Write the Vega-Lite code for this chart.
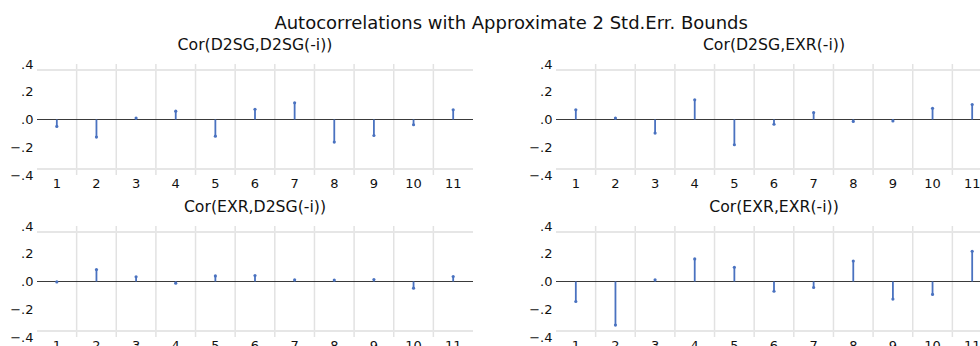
{
  "$schema": "https://vega.github.io/schema/vega-lite/v6.json",
  "background": "white",
  "padding": {"top": 15, "left": 9, "right": 0, "bottom": 0},
  "title": {"text": "Autocorrelations with Approximate 2 Std.Err. Bounds", "font": "DejaVu Sans", "fontSize": 18, "fontWeight": "normal", "color": "#111111", "anchor": "middle", "offset": 4, "dx": 10},
  "data": {"values": [
    {"panel": "Cor(D2SG,D2SG(-i))", "lag": 1, "r": -0.050},
    {"panel": "Cor(D2SG,D2SG(-i))", "lag": 2, "r": -0.127},
    {"panel": "Cor(D2SG,D2SG(-i))", "lag": 3, "r": 0.010},
    {"panel": "Cor(D2SG,D2SG(-i))", "lag": 4, "r": 0.060},
    {"panel": "Cor(D2SG,D2SG(-i))", "lag": 5, "r": -0.120},
    {"panel": "Cor(D2SG,D2SG(-i))", "lag": 6, "r": 0.074},
    {"panel": "Cor(D2SG,D2SG(-i))", "lag": 7, "r": 0.120},
    {"panel": "Cor(D2SG,D2SG(-i))", "lag": 8, "r": -0.163},
    {"panel": "Cor(D2SG,D2SG(-i))", "lag": 9, "r": -0.115},
    {"panel": "Cor(D2SG,D2SG(-i))", "lag": 10, "r": -0.038},
    {"panel": "Cor(D2SG,D2SG(-i))", "lag": 11, "r": 0.070},
    {"panel": "Cor(D2SG,EXR(-i))", "lag": 1, "r": 0.070},
    {"panel": "Cor(D2SG,EXR(-i))", "lag": 2, "r": 0.010},
    {"panel": "Cor(D2SG,EXR(-i))", "lag": 3, "r": -0.098},
    {"panel": "Cor(D2SG,EXR(-i))", "lag": 4, "r": 0.142},
    {"panel": "Cor(D2SG,EXR(-i))", "lag": 5, "r": -0.182},
    {"panel": "Cor(D2SG,EXR(-i))", "lag": 6, "r": -0.034},
    {"panel": "Cor(D2SG,EXR(-i))", "lag": 7, "r": 0.050},
    {"panel": "Cor(D2SG,EXR(-i))", "lag": 8, "r": -0.014},
    {"panel": "Cor(D2SG,EXR(-i))", "lag": 9, "r": -0.010},
    {"panel": "Cor(D2SG,EXR(-i))", "lag": 10, "r": 0.081},
    {"panel": "Cor(D2SG,EXR(-i))", "lag": 11, "r": 0.108},
    {"panel": "Cor(EXR,D2SG(-i))", "lag": 1, "r": -0.003},
    {"panel": "Cor(EXR,D2SG(-i))", "lag": 2, "r": 0.086},
    {"panel": "Cor(EXR,D2SG(-i))", "lag": 3, "r": 0.034},
    {"panel": "Cor(EXR,D2SG(-i))", "lag": 4, "r": -0.012},
    {"panel": "Cor(EXR,D2SG(-i))", "lag": 5, "r": 0.040},
    {"panel": "Cor(EXR,D2SG(-i))", "lag": 6, "r": 0.043},
    {"panel": "Cor(EXR,D2SG(-i))", "lag": 7, "r": 0.012},
    {"panel": "Cor(EXR,D2SG(-i))", "lag": 8, "r": 0.010},
    {"panel": "Cor(EXR,D2SG(-i))", "lag": 9, "r": 0.014},
    {"panel": "Cor(EXR,D2SG(-i))", "lag": 10, "r": -0.048},
    {"panel": "Cor(EXR,D2SG(-i))", "lag": 11, "r": 0.036},
    {"panel": "Cor(EXR,EXR(-i))", "lag": 1, "r": -0.144},
    {"panel": "Cor(EXR,EXR(-i))", "lag": 2, "r": -0.314},
    {"panel": "Cor(EXR,EXR(-i))", "lag": 3, "r": 0.012},
    {"panel": "Cor(EXR,EXR(-i))", "lag": 4, "r": 0.163},
    {"panel": "Cor(EXR,EXR(-i))", "lag": 5, "r": 0.103},
    {"panel": "Cor(EXR,EXR(-i))", "lag": 6, "r": -0.070},
    {"panel": "Cor(EXR,EXR(-i))", "lag": 7, "r": -0.043},
    {"panel": "Cor(EXR,EXR(-i))", "lag": 8, "r": 0.148},
    {"panel": "Cor(EXR,EXR(-i))", "lag": 9, "r": -0.127},
    {"panel": "Cor(EXR,EXR(-i))", "lag": 10, "r": -0.093},
    {"panel": "Cor(EXR,EXR(-i))", "lag": 11, "r": 0.218}
  ]},
  "facet": {"field": "panel", "type": "nominal", "header": {"title": null, "labelFont": "DejaVu Sans", "labelFontSize": 15.7, "labelColor": "#111111", "labelPadding": 4}},
  "columns": 2,
  "spacing": {"column": 54, "row": 9},
  "resolve": {"axis": {"x": "independent", "y": "independent"}},
  "spec": {
    "width": 436,
    "height": 111,
    "layer": [
      {
        "transform": [{"filter": "datum.lag > 1"}],
        "mark": {"type": "rule", "color": "#e2e2e2", "strokeWidth": 1.5},
        "encoding": {"x": {"field": "lag", "type": "ordinal", "bandPosition": 0,
          "scale": {"type": "band", "paddingInner": 0, "paddingOuter": 0, "domain": [1, 2, 3, 4, 5, 6, 7, 8, 9, 10, 11]},
          "axis": {"title": null, "labelAngle": 0, "ticks": false, "domain": false, "grid": false, "labelFont": "DejaVu Sans", "labelFontSize": 13, "labelColor": "#111111", "labelPadding": 2}}}
      },
      {
        "mark": {"type": "rule", "color": "#e6e6e6", "strokeWidth": 1.2},
        "encoding": {"y": {"datum": 0.358, "type": "quantitative",
          "scale": {"domain": [-0.4, 0.4], "nice": false, "zero": false},
          "axis": {"title": null, "values": [-0.4, -0.2, 0, 0.2, 0.4], "labelOverlap": false, "labelExpr": "replace(format(datum.value, '.1f'), '0.', '.')", "ticks": false, "domain": false, "grid": false, "labelFont": "DejaVu Sans", "labelFontSize": 13, "labelColor": "#111111", "labelPadding": 4}}}
      },
      {
        "mark": {"type": "rule", "color": "#e6e6e6", "strokeWidth": 1.2},
        "encoding": {"y": {"datum": -0.358, "type": "quantitative",
          "axis": {"title": null, "values": [-0.4, -0.2, 0, 0.2, 0.4], "labelOverlap": false, "labelExpr": "replace(format(datum.value, '.1f'), '0.', '.')", "ticks": false, "domain": false, "grid": false, "labelFont": "DejaVu Sans", "labelFontSize": 13, "labelColor": "#111111", "labelPadding": 4}}}
      },
      {
        "mark": {"type": "rule", "color": "#3a3a3a", "strokeWidth": 1.2},
        "encoding": {"y": {"datum": 0, "type": "quantitative",
          "axis": {"title": null, "values": [-0.4, -0.2, 0, 0.2, 0.4], "labelOverlap": false, "labelExpr": "replace(format(datum.value, '.1f'), '0.', '.')", "ticks": false, "domain": false, "grid": false, "labelFont": "DejaVu Sans", "labelFontSize": 13, "labelColor": "#111111", "labelPadding": 4}}}
      },
      {
        "mark": {"type": "rule", "color": "#4a72c0", "strokeWidth": 1.8},
        "encoding": {"x": {"field": "lag", "type": "ordinal", "bandPosition": 0.5}, "y": {"field": "r", "type": "quantitative",
          "axis": {"title": null, "values": [-0.4, -0.2, 0, 0.2, 0.4], "labelOverlap": false, "labelExpr": "replace(format(datum.value, '.1f'), '0.', '.')", "ticks": false, "domain": false, "grid": false, "labelFont": "DejaVu Sans", "labelFontSize": 13, "labelColor": "#111111", "labelPadding": 4}}, "y2": {"datum": 0}}
      },
      {
        "mark": {"type": "point", "filled": true, "color": "#4a72c0", "size": 10, "opacity": 1},
        "encoding": {"x": {"field": "lag", "type": "ordinal", "bandPosition": 0.5}, "y": {"field": "r", "type": "quantitative",
          "axis": {"title": null, "values": [-0.4, -0.2, 0, 0.2, 0.4], "labelOverlap": false, "labelExpr": "replace(format(datum.value, '.1f'), '0.', '.')", "ticks": false, "domain": false, "grid": false, "labelFont": "DejaVu Sans", "labelFontSize": 13, "labelColor": "#111111", "labelPadding": 4}}}
      }
    ]
  },
  "config": {"view": {"stroke": null}}
}
